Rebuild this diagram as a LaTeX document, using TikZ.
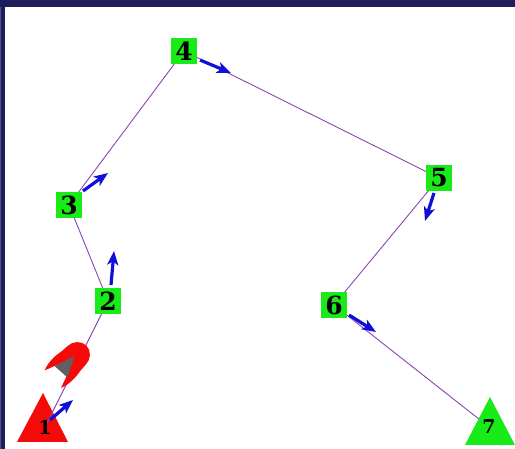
\documentclass[tikz,border=0pt]{standalone}
\usepackage{fontspec}
\setmainfont{DejaVu Serif}
\usetikzlibrary{arrows.meta}
\definecolor{navy}{RGB}{30,30,95}
\definecolor{navyedge}{RGB}{80,80,145}
\definecolor{stopgreen}{RGB}{25,235,25}
\definecolor{markred}{RGB}{245,10,10}
\definecolor{linkpurple}{RGB}{140,70,180}
\definecolor{vecblue}{RGB}{15,15,215}
\definecolor{nozzlegrey}{RGB}{95,95,100}
\pgfdeclarelayer{under}
\pgfdeclarelayer{links}
\pgfsetlayers{under,links,main}

\begin{document}
\begin{tikzpicture}[x=1pt,y=-1pt,
  stop/.style={fill=stopgreen, minimum width=26pt, minimum height=26pt,
    inner sep=0pt, font=\fontsize{25}{25}\selectfont\bfseries},
  endlabel/.style={inner sep=0pt, font=\fontsize{19}{19}\selectfont\bfseries},
  link/.style={draw=linkpurple, line width=0.9pt},
  vec/.style={draw=vecblue, line width=3.2pt,
    -{Stealth[length=14pt,width=11pt,inset=3.5pt]}},
]
\useasboundingbox (0,0) rectangle (515,449);

% frame and the two triangular end markers
\begin{pgfonlayer}{under}
  \fill[white] (0,0) rectangle (515,449);
  \fill[navy] (0,0) rectangle (515,7);
  \fill[navy] (0,0) rectangle (5,449);
  \fill[navyedge] (0,7) rectangle (1.4,449);
  \fill[markred] (17,442) -- (43,393) -- (68,442) -- cycle;
\end{pgfonlayer}
\fill[stopgreen] (465,445) -- (490,397) -- (515,445) -- cycle;

% stops
\node[endlabel] (n1) at (45,427) {1};
\node[stop] (n2) at (108,301) {2};
\node[stop] (n3) at (69,205) {3};
\node[stop] (n4) at (184,51) {4};
\node[stop] (n5) at (439,178) {5};
\node[stop] (n6) at (334,305) {6};
\node[endlabel] (n7) at (489,427) {7};

% route
\begin{pgfonlayer}{links}
  \draw[link] (n1.center) -- (n2.center);
  \draw[link] (n2.center) -- (n3.center);
  \draw[link] (n3.center) -- (n4.center);
  \draw[link] (n4.center) -- (n5.center);
  \draw[link] (n5.center) -- (n6.center);
\end{pgfonlayer}
\begin{pgfonlayer}{under}
  \draw[link] (n6.center) -- (n7.center);
\end{pgfonlayer}

% heading vectors
\coordinate (v1a) at (50,420);  \coordinate (v1b) at (73,400);
\coordinate (v2a) at (111,285); \coordinate (v2b) at (114,251);
\coordinate (v3a) at (83,191);  \coordinate (v3b) at (108,173);
\coordinate (v4a) at (200,60);  \coordinate (v4b) at (231,73);
\coordinate (v5a) at (434,193); \coordinate (v5b) at (425,221);
\coordinate (v6a) at (349,315); \coordinate (v6b) at (376,332);
\draw[vec] (v1a) -- (v1b);
\draw[vec] (v2a) -- (v2b);
\draw[vec] (v3a) -- (v3b);
\draw[vec] (v4a) -- (v4b);
\draw[vec] (v5a) -- (v5b);
\draw[vec] (v6a) -- (v6b);

% rocket on the first leg: rounded nose, two swept fins, grey nozzle
\begin{scope}[shift={(73,359)}, rotate=45]
  \fill[markred] (5,-13) .. controls (12.2,-13) and (19,-7.2) .. (19,0)
    .. controls (19,7.2) and (12.2,13) .. (5,13)
    -- (-3,13.5) .. controls (-10,15) and (-20,15.5) .. (-29,12)
    .. controls (-22,9.5) and (-16,7.5) .. (-11,5)
    -- (-11,-5)
    .. controls (-16,-7.5) and (-22,-9.5) .. (-28,-12)
    .. controls (-20,-15.5) and (-10,-15) .. (-3,-13.5) -- cycle;
  \fill[nozzlegrey] (3,-1) -- (-18,-8) -- (-17,9) -- cycle;
\end{scope}
\end{tikzpicture}
\end{document}
